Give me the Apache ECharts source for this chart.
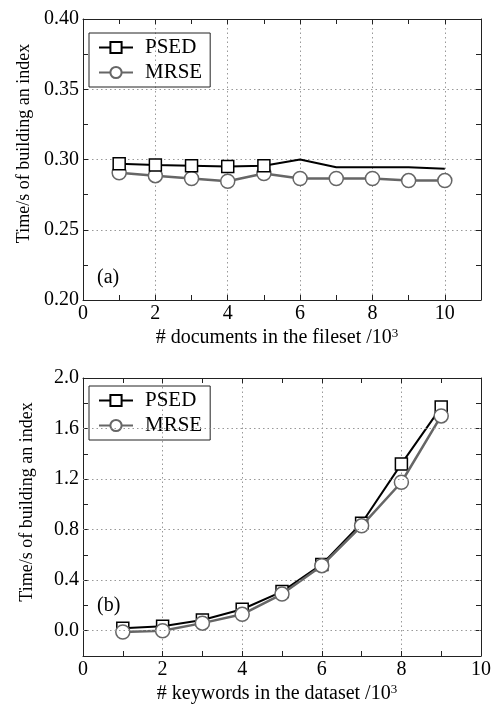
<!DOCTYPE html>
<html>
<head>
<meta charset="utf-8">
<script src="https://cdn.jsdelivr.net/npm/echarts@6/dist/echarts.min.js"></script>
<style>
  html, body { margin: 0; padding: 0; background: #fff; }
  #chart { width: 499px; height: 707px; }
</style>
</head>
<body>
<div id="chart"></div>
<script>
// (a) documents in the fileset (x10^3)
const docsA = [1, 2, 3, 4, 5, 6, 7, 8, 9, 10];
const psedA = [0.297, 0.296, 0.2955, 0.295, 0.2955, 0.300, 0.2945, 0.2945, 0.2945, 0.2935];
const mrseA = [0.2905, 0.2885, 0.2865, 0.2845, 0.290, 0.2865, 0.2865, 0.2865, 0.285, 0.285];
const psedAMarked = 5; // squares only drawn on the first five points

// (b) keywords in the dataset (x10^3)
const keywordsB = [1, 2, 3, 4, 5, 6, 7, 8, 9];
const psedB = [0.02, 0.035, 0.085, 0.17, 0.31, 0.525, 0.85, 1.32, 1.77];
const mrseB = [-0.01, 0.0, 0.06, 0.13, 0.29, 0.515, 0.83, 1.175, 1.70];
const yGridB = [0, 0.4, 0.8, 1.2, 1.6];

const FONT = 'Liberation Serif';
const BLACK = '#000';
const GRAY = '#666';

function pairs(xs, ys) {
  return xs.map((x, i) => [x, ys[i]]);
}

function frameAxis(gridIndex, position, extra) {
  return Object.assign({
    type: 'value',
    gridIndex,
    position,
    axisLine: { show: true, onZero: false, lineStyle: { color: '#222', width: 1 } },
    axisTick: { show: true, inside: true, length: 5, lineStyle: { color: '#222' } },
    minorTick: { show: true, splitNumber: 2, length: 5, lineStyle: { color: '#222' } },
    axisLabel: { show: false },
    splitLine: { show: false },
  }, extra);
}

const dotted = { color: '#999', type: [1.5, 3], width: 1 };
const labelStyle = { color: BLACK, fontFamily: FONT, fontSize: 20 };

const xNameRich = {
  a: { fontFamily: FONT, fontSize: 20, color: BLACK },
  sup: { fontFamily: FONT, fontSize: 13, color: BLACK, verticalAlign: 'top', padding: [0, 0, 8, 0] },
};

const chart = echarts.init(document.getElementById('chart'));

chart.setOption({
  animation: false,
  backgroundColor: '#fff',
  grid: [
    { left: 83, top: 19, width: 398, height: 281 },
    { left: 83, top: 378, width: 398, height: 278 },
  ],
  legend: [
    {
      data: ['PSED', 'MRSE'],
      orient: 'vertical',
      left: 89,
      top: 33,
      borderColor: '#222',
      borderWidth: 1,
      padding: [4, 8, 4, 9],
      itemGap: 4,
      itemWidth: 34,
      itemHeight: 14,
      textStyle: { fontFamily: FONT, fontSize: 21, color: BLACK, padding: [0, 0, 0, 7] },
    },
    {
      data: ['PSED', 'MRSE'],
      orient: 'vertical',
      left: 89,
      top: 386,
      borderColor: '#222',
      borderWidth: 1,
      padding: [4, 8, 4, 9],
      itemGap: 4,
      itemWidth: 34,
      itemHeight: 14,
      textStyle: { fontFamily: FONT, fontSize: 21, color: BLACK, padding: [0, 0, 0, 7] },
    },
  ],
  xAxis: [
    frameAxis(0, 'bottom', {
      min: 0, max: 11, interval: 2,
      axisLabel: { show: true, margin: 4, showMaxLabel: false, ...labelStyle },
      splitLine: { show: true, lineStyle: dotted },
      name: '{a|# documents in the fileset /10}{sup|3}',
      nameLocation: 'middle',
      nameGap: 27,
      nameTextStyle: { rich: xNameRich, padding: [0, 10, 0, 0] },
    }),
    frameAxis(0, 'top', { min: 0, max: 11, interval: 2 }),
    frameAxis(1, 'bottom', {
      min: 0, max: 10, interval: 2,
      axisLabel: { show: true, margin: 4, ...labelStyle },
      splitLine: { show: true, lineStyle: dotted },
      name: '{a|# keywords in the dataset /10}{sup|3}',
      nameLocation: 'middle',
      nameGap: 27,
      nameTextStyle: { rich: xNameRich, padding: [0, 10, 0, 0] },
    }),
    frameAxis(1, 'top', { min: 0, max: 10, interval: 2 }),
  ],
  yAxis: [
    frameAxis(0, 'left', {
      min: 0.2, max: 0.4, interval: 0.05,
      axisLabel: { show: true, margin: 4, formatter: (v) => v.toFixed(2), ...labelStyle },
      splitLine: { show: true, lineStyle: dotted },
      name: 'Time/s of building an index',
      nameLocation: 'middle',
      nameGap: 47,
      nameTextStyle: { fontFamily: FONT, fontSize: 18, color: BLACK, padding: [0, 0, 0, 32] },
    }),
    frameAxis(0, 'right', { min: 0.2, max: 0.4, interval: 0.05 }),
    frameAxis(1, 'left', {
      min: -0.2, max: 2.0, interval: 0.2,
      minorTick: { show: false },
      axisLabel: {
        show: true, margin: 4, ...labelStyle,
        formatter: (v) => (v > -1e-6 && Math.round(v * 10) % 4 === 0 ? v.toFixed(1) : ''),
      },
      name: 'Time/s of building an index',
      nameLocation: 'middle',
      nameGap: 47,
      nameTextStyle: { fontFamily: FONT, fontSize: 18, color: BLACK, padding: [0, 0, 0, 30] },
    }),
    frameAxis(1, 'right', { min: -0.2, max: 2.0, interval: 0.2, minorTick: { show: false } }),
  ],
  graphic: [
    { type: 'text', left: 97, top: 268, style: { text: '(a)', font: `20px "${FONT}"`, fill: BLACK } },
    { type: 'text', left: 97, top: 596, style: { text: '(b)', font: `20px "${FONT}"`, fill: BLACK } },
  ],
  series: [
    {
      name: 'MRSE',
      type: 'line',
      xAxisIndex: 0,
      yAxisIndex: 0,
      data: pairs(docsA, mrseA),
      symbol: 'circle',
      symbolSize: 14,
      lineStyle: { color: GRAY, width: 2.5 },
      itemStyle: { color: '#fff', borderColor: GRAY, borderWidth: 1.5 },
      z: 3,
    },
    {
      name: 'PSED',
      type: 'line',
      xAxisIndex: 0,
      yAxisIndex: 0,
      data: pairs(docsA, psedA).map((p, i) => (i < psedAMarked ? { value: p } : { value: p, symbol: 'none' })),
      symbol: 'rect',
      symbolSize: 12,
      lineStyle: { color: BLACK, width: 2 },
      itemStyle: { color: '#fff', borderColor: BLACK, borderWidth: 1.5 },
      z: 4,
    },
    {
      name: 'PSED',
      type: 'line',
      xAxisIndex: 2,
      yAxisIndex: 2,
      data: pairs(keywordsB, psedB),
      symbol: 'rect',
      symbolSize: 12,
      lineStyle: { color: BLACK, width: 2 },
      itemStyle: { color: '#fff', borderColor: BLACK, borderWidth: 1.5 },
      z: 3,
    },
    {
      name: 'MRSE',
      type: 'line',
      xAxisIndex: 2,
      yAxisIndex: 2,
      data: pairs(keywordsB, mrseB),
      symbol: 'circle',
      symbolSize: 14,
      lineStyle: { color: GRAY, width: 2.5 },
      itemStyle: { color: '#fff', borderColor: GRAY, borderWidth: 1.5 },
      z: 4,
    },
    {
      name: 'gridB',
      type: 'line',
      xAxisIndex: 2,
      yAxisIndex: 2,
      data: [],
      z: 1,
      silent: true,
      markLine: {
        silent: true,
        symbol: 'none',
        label: { show: false },
        lineStyle: dotted,
        data: yGridB.map((v) => ({ yAxis: v })),
      },
    },
  ],
});
</script>
</body>
</html>
